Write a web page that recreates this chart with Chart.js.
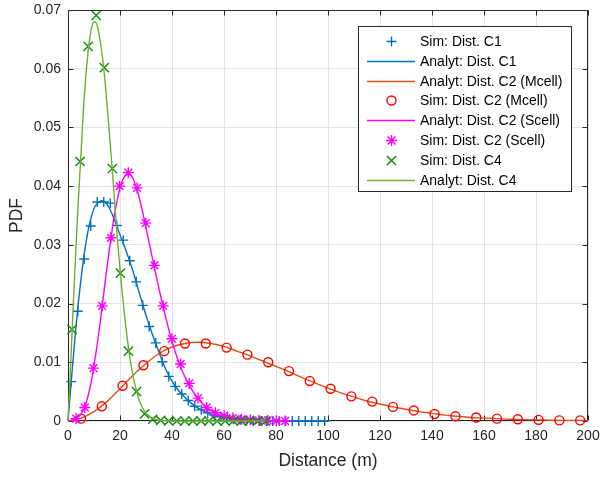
<!DOCTYPE html>
<html>
<head>
<meta charset="utf-8">
<script src="https://cdn.jsdelivr.net/npm/chart.js@4.4.1/dist/chart.umd.min.js"></script>
<style>
html,body{margin:0;padding:0;background:#ffffff;}
#wrap{position:relative;width:602px;height:478px;}
canvas{display:block;}
</style>
</head>
<body>
<div id="wrap"><canvas id="c" width="602" height="478"></canvas></div>
<script>
// ---------- data ----------
const xTickValues = [0,20,40,60,80,100,120,140,160,180,200];
const yTickLabels = ['0','0.01','0.02','0.03','0.04','0.05','0.06','0.07'];

// Sim: Dist. C1 (+)
const c1SimX = [1.25,3.75,6.25,8.75,11.25,13.75,16.25,18.75,21.25,23.75,26.25,28.75,31.25,33.75,36.25,38.75,41.25,43.75,46.25,48.75,51.25,53.75,56.25,58.75,61.25,63.75,66.25,68.75,71.25,73.75,76.25,78.75,81.25,83.75,86.25,88.75,91.25,93.75,96.25,98.75];
const c1SimY = [0.0067,0.0187,0.0276,0.0332,0.0373,0.0373,0.0371,0.0333,0.0308,0.0273,0.0237,0.0197,0.0161,0.0133,0.0101,0.0076,0.0059,0.0046,0.0035,0.0025,0.0019,0.0014,0.0010,0.0007,0.0005,0.0003,0.0002,0.0001,0.0001,0,0,0,0,0,0,0,0,0,0,0];

// Analyt: Dist. C1
const c1LineX = [0,1,2,3,4,5,6,7,8,9,10,11,12,13,14,15,16,17,18,19,20,22.5,25,27.5,30,32.5,35,37.5,40,42.5,45,47.5,50,52.5,55,57.5,60,65,70,75,80,100];
const c1LineY = [0,0.0054,0.0107,0.0157,0.0202,0.0242,0.0277,0.0306,0.0330,0.0348,0.0362,0.0369,0.0373,0.0375,0.0374,0.0369,0.0362,0.0352,0.0341,0.0329,0.0317,0.0288,0.0255,0.0217,0.0180,0.0147,0.0117,0.0089,0.0068,0.0052,0.0040,0.0030,0.0022,0.0016,0.0011,0.0008,0.0006,0.0003,0.0001,0.0001,0,0];

// Analyt: Dist. C2 (Mcell)
const mcLineX = [0,5,10,15,20,25,30,35,40,45,50,55,60,65,70,75,80,85,90,95,100,105,110,115,120,125,130,135,140,145,150,155,160,165,170,180,190,200];
const mcLineY = [0,0.0005,0.0016,0.0033,0.0055,0.0078,0.0098,0.0115,0.0126,0.0132,0.0134,0.0132,0.0127,0.0119,0.0111,0.0102,0.0093,0.0084,0.0074,0.0065,0.0056,0.0048,0.0041,0.0034,0.0029,0.0024,0.0020,0.0016,0.0013,0.0010,0.0008,0.0006,0.0005,0.0004,0.0003,0.0002,0.0001,0.0001];

// Sim: Dist. C2 (Mcell) (o)
const mcSimX = [5,13,21,29,37,45,53,61,69,77,85,93,101,109,117,125,133,141,149,157,165,173,181,189,197];
const mcSimY = [0.0004,0.0025,0.0060,0.0095,0.0119,0.0132,0.0132,0.0125,0.0113,0.0100,0.0085,0.0068,0.0055,0.0042,0.0033,0.0024,0.0018,0.0012,0.0008,0.0006,0.0004,0.0003,0.0002,0.0001,0.0001];

// Analyt: Dist. C2 (Scell)
const scLineX = [0,3,6,9,12,15,18,20,21,22,23,24,25,27,29,31,33,35,37,39,41,43,45,47,49,51,53,55,57,60,65,70,75,84];
const scLineY = [0,0.0004,0.0019,0.0068,0.0155,0.0262,0.0355,0.0397,0.0410,0.0418,0.0421,0.0419,0.0413,0.0387,0.0350,0.0308,0.0266,0.0225,0.0187,0.0152,0.0121,0.0096,0.0075,0.0058,0.0044,0.0033,0.0024,0.0018,0.0013,0.0008,0.0004,0.0002,0.0001,0];

// Sim: Dist. C2 (Scell) (*)
const scSimX = [3.1,6.45,9.8,13.15,16.5,19.85,23.2,26.55,29.9,33.25,36.6,39.95,43.3,46.65,50,53.35,56.7,60.05,63.4,66.75,70.1,73.45,76.8,80.15,83.5];
const scSimY = [0.0004,0.0023,0.0090,0.0196,0.0312,0.0400,0.0423,0.0397,0.0337,0.0265,0.0196,0.0140,0.0097,0.0064,0.0039,0.0023,0.0014,0.0009,0.0005,0.0003,0.0002,0.0001,0.0001,0,0];

// Sim: Dist. C4 (x)
const c4SimX = [1.55,4.65,7.75,10.85,13.95,17.05,20.15,23.25,26.35,29.45,32.55,35.65,38.75,41.85,44.95,48.05,51.15,54.25,57.35,60.45,63.55,66.65,69.75,72.85,75.95];
const c4SimY = [0.0156,0.0442,0.0638,0.0691,0.0602,0.0430,0.0252,0.0119,0.0050,0.0012,0.0003,0.0001,0,0,0,0,0,0,0,0,0,0,0,0,0];

// Analyt: Dist. C4
const c4LineX = [0,1,2,3,4,5,6,7,8,9,10,11,12,13,14,15,16,17,18,19,20,21,22,23,24,25,26,27,28,29,30,31,32,34,36,40,76];
const c4LineY = [0,0.0095,0.0195,0.0290,0.0378,0.0455,0.0535,0.0595,0.0640,0.0668,0.0680,0.0677,0.0657,0.0628,0.0590,0.0540,0.0485,0.0430,0.0368,0.0310,0.0258,0.0212,0.0170,0.0133,0.0102,0.0077,0.0057,0.0041,0.0029,0.0020,0.0013,0.0009,0.0006,0.0002,0.0001,0,0];

const seriesNames = ['Sim: Dist. C1','Analyt: Dist. C1','Analyt: Dist. C2 (Mcell)','Sim: Dist. C2 (Mcell)','Analyt: Dist. C2 (Scell)','Sim: Dist. C2 (Scell)','Sim: Dist. C4','Analyt: Dist. C4'];

// ---------- styles ----------
const FONT = '"Liberation Sans", Arial, Helvetica, sans-serif';
const AXIS_COLOR = '#262626';
const GRID_COLOR = '#e4e4e4';
const C_BLUE = '#0072BD', C_ORANGE = '#D95319', C_RED = '#FF0000', C_MAG = '#FF00FF', C_DKGREEN = '#0A8C0A', C_GREEN = '#77AC30';
const LW = 1.4;

function pts(xs, ys){ return xs.map((x,i)=>({x:x, y:ys[i]})); }

const N = seriesNames.length;
function simSet(i, xs, ys, style, color, radius){
  return { type:'line', label: seriesNames[i], data: pts(xs, ys), showLine:false,
    pointStyle: style, pointRadius: radius, pointHoverRadius: radius,
    pointBorderColor: color, pointBackgroundColor: 'rgba(0,0,0,0)', pointBorderWidth: LW,
    borderColor: color, backgroundColor: 'rgba(0,0,0,0)', order: N - i, clip: false };
}
function lineSet(i, xs, ys, color){
  return { type:'line', label: seriesNames[i], data: pts(xs, ys), showLine:true,
    pointRadius:0, pointHoverRadius:0, borderColor: color, borderWidth: LW,
    backgroundColor: 'rgba(0,0,0,0)', cubicInterpolationMode:'monotone', fill:false, order: N - i, clip: false };
}

const datasets = [
  simSet(0, c1SimX, c1SimY, 'cross', C_BLUE, 5),
  lineSet(1, c1LineX, c1LineY, C_BLUE),
  lineSet(2, mcLineX, mcLineY, C_ORANGE),
  simSet(3, mcSimX, mcSimY, 'circle', C_RED, 4.5),
  lineSet(4, scLineX, scLineY, C_MAG),
  simSet(5, scSimX, scSimY, 'star', C_MAG, 5.5),
  simSet(6, c4SimX, c4SimY, 'crossRot', C_DKGREEN, 6.5),
  lineSet(7, c4LineX, c4LineY, C_GREEN)
];

// legend sample descriptions
const legendSamples = [
  {kind:'marker', style:'cross', color:C_BLUE},
  {kind:'line', color:C_BLUE},
  {kind:'line', color:C_ORANGE},
  {kind:'marker', style:'circle', color:C_RED},
  {kind:'line', color:C_MAG},
  {kind:'marker', style:'star', color:C_MAG},
  {kind:'marker', style:'crossRot', color:C_DKGREEN},
  {kind:'line', color:C_GREEN}
];

function drawMarker(ctx, style, x, y){
  ctx.beginPath();
  if (style === 'circle') {
    ctx.arc(x, y, 4.5, 0, Math.PI*2);
  } else {
    if (style === 'cross' || style === 'star') {
      const a = (style==='star') ? 5.5 : 5;
      ctx.moveTo(x-a, y); ctx.lineTo(x+a, y);
      ctx.moveTo(x, y-a); ctx.lineTo(x, y+a);
    }
    if (style === 'crossRot' || style === 'star') {
      const d = (style==='star' ? 5.5 : 6.5) * Math.SQRT1_2;
      ctx.moveTo(x-d, y-d); ctx.lineTo(x+d, y+d);
      ctx.moveTo(x-d, y+d); ctx.lineTo(x+d, y-d);
    }
  }
  ctx.stroke();
}

const framePlugin = {
  id: 'frame',
  beforeDatasetsDraw(chart){
    const ctx = chart.ctx, a = chart.chartArea;
    const xs = chart.scales.x, ys = chart.scales.y;
    ctx.save();
    ctx.strokeStyle = AXIS_COLOR; ctx.lineWidth = 1;
    const L = Math.round(a.left)+0.5, R = Math.round(a.right)-0.5, T = Math.round(a.top)+0.5, B = Math.round(a.bottom)-0.5;
    ctx.strokeRect(L, T, R-L, B-T);
    const tl = 5;
    ctx.beginPath();
    xTickValues.forEach(v => {
      const px = Math.round(xs.getPixelForValue(v)) + 0.5;
      ctx.moveTo(px, B); ctx.lineTo(px, B - tl);
      ctx.moveTo(px, T); ctx.lineTo(px, T + tl);
    });
    yTickLabels.forEach((s, i) => {
      const py = Math.round(ys.getPixelForValue(i*0.01)) + 0.5;
      ctx.moveTo(L, py); ctx.lineTo(L + tl, py);
      ctx.moveTo(R, py); ctx.lineTo(R - tl, py);
    });
    ctx.stroke();
    ctx.restore();
  },
  afterDraw(chart){
    const ctx = chart.ctx, a = chart.chartArea;
    const right = Math.round(a.right) - 16, top = Math.round(a.top) + 16;
    const w = 214, h = 166;
    const left = right - w;
    ctx.save();
    ctx.fillStyle = '#ffffff';
    ctx.fillRect(left, top, w, h);
    ctx.strokeStyle = AXIS_COLOR; ctx.lineWidth = 1;
    ctx.strokeRect(left + 0.5, top + 0.5, w - 1, h - 1);
    ctx.font = '14px ' + FONT;
    ctx.textBaseline = 'middle';
    ctx.textAlign = 'left';
    seriesNames.forEach((name, i) => {
      const cy = Math.round(top + 14.7 + i * 19.9);
      const s = legendSamples[i];
      ctx.save();
      ctx.strokeStyle = s.color; ctx.lineWidth = LW;
      if (s.kind === 'line') {
        ctx.beginPath(); ctx.moveTo(left + 9, cy + 0.5); ctx.lineTo(left + 57, cy + 0.5); ctx.stroke();
      } else {
        drawMarker(ctx, s.style, left + 33.5, cy + 0.5);
      }
      ctx.restore();
      ctx.fillStyle = '#000000';
      ctx.fillText(name, left + 62, cy + 1);
    });
    ctx.restore();
  }
};

new Chart(document.getElementById('c'), {
  type: 'scatter',
  data: { datasets: datasets },
  options: {
    responsive: false,
    animation: false,
    devicePixelRatio: 1,
    layout: { padding: { left: 0, right: 14, top: 10, bottom: 0 } },
    plugins: { legend: { display: false }, tooltip: { enabled: false } },
    scales: {
      x: {
        type: 'linear', min: 0, max: 200,
        afterBuildTicks(scale){ scale.ticks = xTickValues.map(v => ({value: v})); },
        afterFit(scale){ scale.height = 57; scale.paddingLeft = 0; scale.paddingRight = 0; },
        grid: { color: GRID_COLOR, lineWidth: 1, drawTicks: false },
        border: { display: false },
        ticks: { color: AXIS_COLOR, font: { family: FONT, size: 14 }, padding: 7, maxRotation: 0,
          callback: (v) => String(v) },
        title: { display: true, text: 'Distance (m)', color: AXIS_COLOR, font: { family: FONT, size: 17.5 }, padding: { top: 0, bottom: 6 } }
      },
      y: {
        type: 'linear', min: 0, max: 0.07,
        afterBuildTicks(scale){ scale.ticks = yTickLabels.map((s, i) => ({value: i * 0.01})); },
        afterFit(scale){ scale.width = 68; scale.paddingTop = 0; scale.paddingBottom = 0; },
        grid: { color: GRID_COLOR, lineWidth: 1, drawTicks: false },
        border: { display: false },
        ticks: { color: AXIS_COLOR, font: { family: FONT, size: 14 }, padding: 7,
          callback: (v, i) => yTickLabels[i] },
        title: { display: true, text: 'PDF', color: AXIS_COLOR, font: { family: FONT, size: 17.5 }, padding: { top: 7, bottom: 0 } }
      }
    }
  },
  plugins: [framePlugin]
});
</script>
</body>
</html>
